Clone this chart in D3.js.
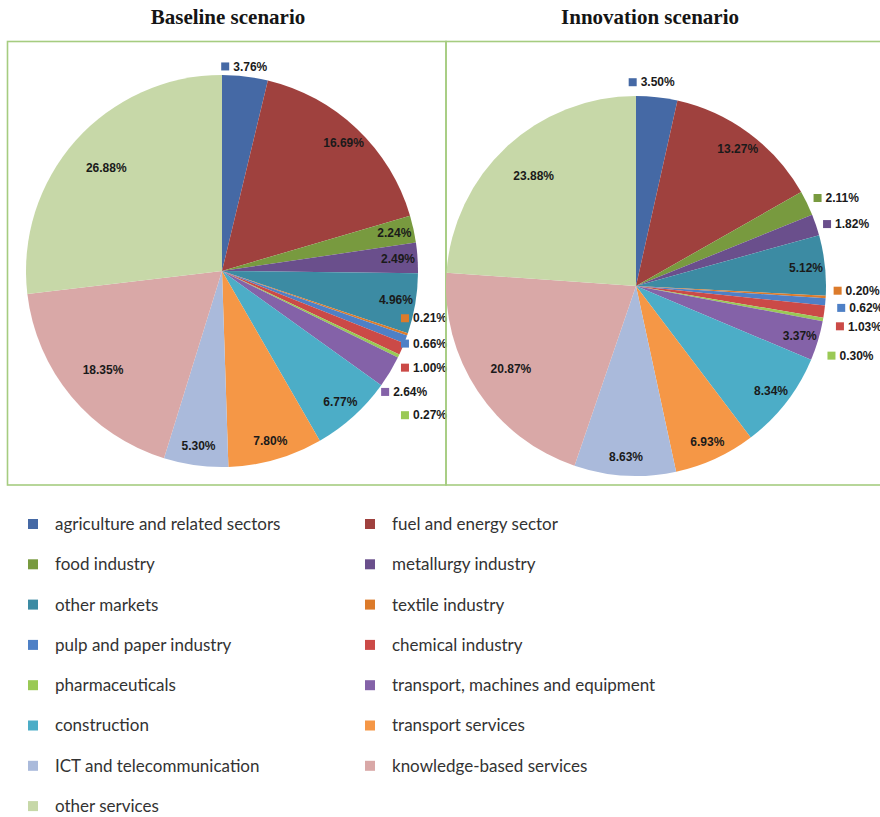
<!DOCTYPE html>
<meta charset="utf-8">
<style>

    body { margin: 0; background: #fff; }

    .title {
        font: bold 21px "Liberation Serif", "Times New Roman", serif;
        fill: #151515;
        text-anchor: middle;
    }

    .lbl {
        font: bold 12px "Liberation Sans", Arial, sans-serif;
        fill: #1a1a1a;
    }

    .legend text {
        font: 17px Lato, "Open Sans", sans-serif;
        fill: #333;
    }

</style>
<svg class="chart"></svg>
<script src="https://d3js.org/d3.v7.min.js" charset="utf-8"></script>
<script>

    // sectors, in slice order (clockwise from 12 o'clock) and legend order
    var sectors = [
        "agriculture and related sectors", "fuel and energy sector",
        "food industry", "metallurgy industry",
        "other markets", "textile industry",
        "pulp and paper industry", "chemical industry",
        "pharmaceuticals", "transport, machines and equipment",
        "construction", "transport services",
        "ICT and telecommunication", "knowledge-based services",
        "other services"
    ];

    var colors = [
        "#4569a5", "#9f413e", "#789a3f", "#6a4f8c", "#3c8ba3",
        "#dc7b2b", "#4e80c6", "#cb4a47", "#9ac955", "#8462a8",
        "#4cadc7", "#f59746", "#aabadb", "#d9a8a7", "#c7d8a8"
    ];

    var titles = ["Baseline scenario", "Innovation scenario"];

    var baseline = [3.76, 16.69, 2.24, 2.49, 4.96, 0.21, 0.66, 1.00, 0.27, 2.64, 6.77, 7.80, 5.30, 18.35, 26.88];
    var innovation = [3.50, 13.27, 2.11, 1.82, 5.12, 0.20, 0.62, 1.03, 0.30, 3.37, 8.34, 6.93, 8.63, 20.87, 23.88];

    // slices whose label sits outside the pie
    var baselineOutside = [0, 5, 6, 7, 8, 9];
    var innovationOutside = [0, 2, 3, 5, 6, 7, 8];

    // layout
    var width = 880,
        height = 817;

    var panels = [
        { title: titles[0], values: baseline, outside: baselineOutside,
          box: [7.5, 41.5, 438.5, 443.5], cx: 222, cy: 271, r: 196, titleX: 228,
          nudge: { 0: [-5, 2], 5: [0, -20], 6: [0, 0], 7: [0, 14], 8: [0, 54], 9: [-16, 14] } },
        { title: titles[1], values: innovation, outside: innovationOutside,
          box: [446, 41.5, 445, 443.5], cx: 636, cy: 286, r: 190, titleX: 650,
          nudge: { 0: [-9, -3], 2: [-2, 0], 3: [-3, 3], 5: [-4, -7], 6: [0, 5], 7: [0, 13], 8: [-7, 34] } }
    ];

    var svg = d3.select(".chart")
        .attr("width", width)
        .attr("height", height);

    var pie = d3.pie()
        .sort(null)
        .value(function(d) { return d; });

    function fmt(v) { return v.toFixed(2) + "%"; }

    panels.forEach(function(p) {
        svg.append("text")
            .attr("class", "title")
            .attr("x", p.titleX)
            .attr("y", 24)
            .text(p.title);

        svg.append("rect")
            .attr("x", p.box[0]).attr("y", p.box[1])
            .attr("width", p.box[2]).attr("height", p.box[3])
            .attr("fill", "none")
            .attr("stroke", "#a6cc80")
            .attr("stroke-width", 1.6);

        var g = svg.append("g")
            .attr("transform", "translate(" + p.cx + "," + p.cy + ")");

        var arcs = pie(p.values);

        var arc = d3.arc().innerRadius(0).outerRadius(p.r);

        g.selectAll("path")
            .data(arcs)
            .enter().append("path")
            .attr("d", arc)
            .attr("fill", function(d, i) { return colors[i]; });

        // labels inside the pie
        var inside = arcs.filter(function(d) { return p.outside.indexOf(d.index) < 0; });
        g.selectAll("text.in")
            .data(inside)
            .enter().append("text")
            .attr("class", "lbl in")
            .attr("text-anchor", "middle")
            .attr("dy", ".35em")
            .attr("transform", function(d) {
                var k = d.value > 18 ? 0.79 : 0.9;
                var c = d3.arc().innerRadius(k * p.r).outerRadius(k * p.r).centroid(d);
                return "translate(" + c + ")";
            })
            .text(function(d) { return fmt(d.value); });

        // labels outside with a colour key
        var outArc = d3.arc().innerRadius(p.r + 12).outerRadius(p.r + 12);
        var clampRight = p.box[0] + p.box[2] - p.cx + 1;
        var outside = arcs.filter(function(d) { return p.outside.indexOf(d.index) >= 0; });

        outside.forEach(function(d) {
            var c = outArc.centroid(d);
            var mid = (d.startAngle + d.endAngle) / 2;
            var s = Math.abs(Math.sin(mid));
            var lg = g.append("g");
            var t = lg.append("text")
                .attr("class", "lbl")
                .attr("x", 12)
                .attr("dy", ".35em")
                .text(fmt(d.value));
            lg.append("rect")
                .attr("x", 0).attr("y", -4)
                .attr("width", 8).attr("height", 8)
                .attr("fill", colors[d.index]);
            var w = 12 + t.node().getComputedTextLength();
            var left = c[0] - w * (1 - s) / 2;
            if (left + w > clampRight) left = clampRight - w;
            var n = p.nudge[d.index] || [0, 0];
            lg.attr("transform", "translate(" + (left + n[0]) + "," + (c[1] + n[1]) + ")");
        });
    });

    // legend, two columns
    var legend = svg.append("g").attr("class", "legend");
    var colX = [28, 365],
        rowY = 524,
        rowStep = 40.3;

    sectors.forEach(function(name, i) {
        var col = i % 2,
            row = Math.floor(i / 2);
        var item = legend.append("g")
            .attr("transform", "translate(" + colX[col] + "," + (rowY + row * rowStep) + ")");
        item.append("rect")
            .attr("x", 0).attr("y", -5)
            .attr("width", 10).attr("height", 10)
            .attr("fill", colors[i]);
        item.append("text")
            .attr("x", 27)
            .attr("dy", ".35em")
            .text(name);
    });

</script>
